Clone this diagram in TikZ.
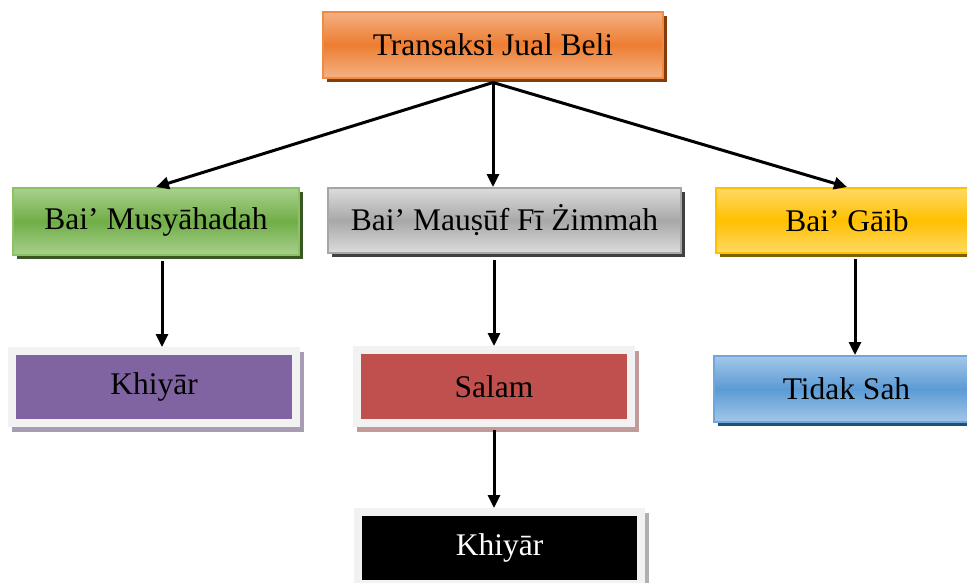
\documentclass[tikz,border=0pt]{standalone}
\usepackage{fontspec}
\setmainfont{Liberation Serif}
\usetikzlibrary{arrows.meta,shadows}

\definecolor{orgEdge}{HTML}{F4B183}
\definecolor{orgMid}{HTML}{ED7D31}
\definecolor{orgLine}{HTML}{F08A45}
\definecolor{orgShadow}{HTML}{843C0C}
\definecolor{grnEdge}{HTML}{A9D18E}
\definecolor{grnMid}{HTML}{70AD47}
\definecolor{grnLine}{HTML}{8CC168}
\definecolor{grnShadow}{HTML}{385723}
\definecolor{gryEdge}{HTML}{DCDCDC}
\definecolor{gryMid}{HTML}{A8A8A8}
\definecolor{gryLine}{HTML}{A6A6A6}
\definecolor{gryShadow}{HTML}{404040}
\definecolor{ylwEdge}{HTML}{FFD966}
\definecolor{ylwMid}{HTML}{FFC000}
\definecolor{ylwLine}{HTML}{FFC000}
\definecolor{ylwShadow}{HTML}{7F6000}
\definecolor{bluEdge}{HTML}{A3C7E8}
\definecolor{bluMid}{HTML}{5B9BD5}
\definecolor{bluLine}{HTML}{6FA7DA}
\definecolor{bluShadow}{HTML}{1F4E79}
\definecolor{frameGray}{HTML}{F2F2F2}
\definecolor{purFill}{HTML}{8064A2}
\definecolor{purShadow}{HTML}{A69CB3}
\definecolor{redFill}{HTML}{C0504D}
\definecolor{redShadow}{HTML}{C29A99}
\definecolor{blkShadow}{HTML}{B0B0B0}

\tikzset{
  txt/.style={font=\fontsize{31.5}{36}\selectfont, inner sep=0pt},
  gradbox/.style n args={4}{txt, rectangle, draw=#3, line width=2pt,
    top color=#1, bottom color=#1, middle color=#2,
    drop shadow={shadow xshift=4pt, shadow yshift=-4pt, fill=#4, opacity=1}},
  framebox/.style 2 args={txt, rectangle, fill=#1, draw=frameGray, line width=8pt,
    drop shadow={shadow xshift=4pt, shadow yshift=-5pt, fill=#2, draw=#2, opacity=1}},
  arr/.style={line width=3pt, -{Triangle[length=13pt,width=12pt]}}
}

\begin{document}
\begin{tikzpicture}[x=1pt,y=-1pt]
  \useasboundingbox (0,0) rectangle (967,582);
  \begin{scope}
    \clip (0,0) rectangle (967,582);

    % top level
    \node[gradbox={orgEdge}{orgMid}{orgLine}{orgShadow},
          minimum width=340pt, minimum height=66pt] (top) at (493,44.5) {Transaksi Jual Beli};

    % second level
    \node[gradbox={grnEdge}{grnMid}{grnLine}{grnShadow},
          minimum width=286pt, minimum height=67pt] (green) at (156,221.5) {Bai’ Musyāhadah};
    \node[gradbox={gryEdge}{gryMid}{gryLine}{gryShadow},
          minimum width=353pt, minimum height=65pt] (gray) at (504.5,220.5) {Bai’ Mauṣūf Fī Żimmah};
    \node[gradbox={ylwEdge}{ylwMid}{ylwLine}{ylwShadow},
          minimum width=262pt, minimum height=65pt] (yellow) at (847,220.5) {Bai’ Gāib};

    % third level
    \node[framebox={purFill}{purShadow},
          minimum width=284pt, minimum height=72pt] (purple) at (154,387) {Khiyār};
    \node[framebox={redFill}{redShadow},
          minimum width=274pt, minimum height=73pt] (salam) at (494,386.5) {Salam};
    \node[gradbox={bluEdge}{bluMid}{bluLine}{bluShadow},
          minimum width=265pt, minimum height=66pt] (tidak) at (846.5,389) {Tidak Sah};

    % fourth level
    \node[framebox={black}{blkShadow}, text=white,
          minimum width=283pt, minimum height=72pt] (black) at (499.5,548) {Khiyār};

    % connectors
    \coordinate (hub) at ([yshift=-4pt]top.south);
    \draw[arr] (hub) -- (green.north);
    \draw[arr] (hub) -- (hub |- gray.north);
    \draw[arr] (hub) -- (yellow.north);

    \coordinate (g1) at ([xshift=6pt,yshift=-5pt]green.south);
    \draw[arr] (g1) -- (g1 |- purple.north);
    \coordinate (g2) at (salam.north |- gray.south);
    \draw[arr] ([yshift=-6pt]g2) -- (salam.north);
    \coordinate (g3) at ([xshift=8pt,yshift=-5pt]yellow.south);
    \draw[arr] (g3) -- (g3 |- tidak.north);
    \coordinate (g4) at ([yshift=-3pt]salam.south);
    \draw[arr] (g4) -- (g4 |- black.north);
  \end{scope}
\end{tikzpicture}
\end{document}
